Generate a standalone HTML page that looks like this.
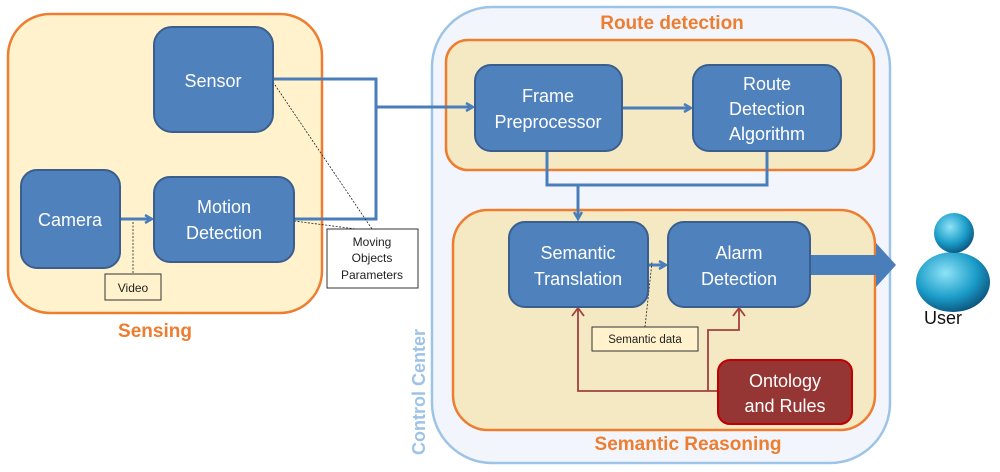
<!DOCTYPE html>
<html><head><style>body{margin:0;background:#fff}svg{display:block}</style></head><body>
<svg width="1000" height="472" xmlns="http://www.w3.org/2000/svg" font-family="Liberation Sans, sans-serif">
<defs>
<marker id="ab" markerWidth="10" markerHeight="10" refX="8" refY="5" orient="auto" markerUnits="userSpaceOnUse"><path d="M1,1 L8,5 L1,9" fill="none" stroke="#4a7ebb" stroke-width="2.5"/></marker>
<radialGradient id="ug" cx="40%" cy="35%" r="70%"><stop offset="0" stop-color="#8fe3f7"/><stop offset="0.6" stop-color="#1a9cc8"/><stop offset="1" stop-color="#0b4f78"/></radialGradient>
</defs>
<rect x="8" y="14" width="314" height="299" rx="42" fill="#fff2cc" stroke="#ed7d31" stroke-width="2.5"/>
<text x="155" y="337" font-size="19" font-weight="bold" fill="#ed7d31" text-anchor="middle">Sensing</text>
<rect x="432" y="7" width="458" height="456" rx="60" fill="#f2f6fc" stroke="#9dc3e6" stroke-width="2.5"/>
<text transform="translate(425,455) rotate(-90)" font-size="18" font-weight="bold" fill="#9dc3e6">Control Center</text>
<text x="672" y="29" font-size="19" font-weight="bold" fill="#ed7d31" text-anchor="middle">Route detection</text>
<rect x="446" y="40" width="428" height="130" rx="22" fill="#f5e9c4" stroke="#ed7d31" stroke-width="2.5"/>
<rect x="453" y="210" width="422" height="220" rx="35" fill="#f5e9c4" stroke="#ed7d31" stroke-width="2.5"/>
<text x="688" y="450" font-size="19" font-weight="bold" fill="#ed7d31" text-anchor="middle">Semantic Reasoning</text>
<g fill="none" stroke="#4a7ebb" stroke-width="3">
<path d="M273,79 H376 V219 H294"/>
<path d="M376,107 H473" marker-end="url(#ab)"/>
<path d="M120,219 H152" marker-end="url(#ab)"/>
<path d="M622,108 H691" marker-end="url(#ab)"/>
<path d="M547,151 V185 H767 V151"/>
<path d="M578,185 V219" marker-end="url(#ab)"/>
<path d="M648,265 H666" marker-end="url(#ab)"/>
</g>
<path d="M810,255 H876 V243 L896,265 L876,287 V275 H810 Z" fill="#4a7ebb"/>
<g fill="none" stroke="#a0413e" stroke-width="1.8">
<path d="M718,391 H578 V309"/><path d="M572,316 L578,308 L584,316"/>
<path d="M708,391 V330 H739 V309"/><path d="M733,316 L739,308 L745,316"/>
</g>
<g stroke="#222" stroke-width="0.8" stroke-dasharray="2,1.5" fill="none">
<path d="M273,82 L372,229"/><path d="M294,221 L356,229"/>
<path d="M133,222 V274"/><path d="M645,327 L652,262"/>
</g>
<g fill="#4f81bd" stroke="#3a5f8f" stroke-width="2">
<rect x="154" y="27" width="119" height="105" rx="18"/>
<rect x="21" y="170" width="99" height="98" rx="16"/>
<rect x="154" y="177" width="140" height="85" rx="16"/>
<rect x="475" y="65" width="147" height="86" rx="16"/>
<rect x="693" y="65" width="148" height="86" rx="16"/>
<rect x="509" y="222" width="139" height="85" rx="16"/>
<rect x="668" y="222" width="142" height="85" rx="16"/>
</g>
<rect x="718" y="360" width="134" height="64" rx="12" fill="#963634" stroke="#c00000" stroke-width="2"/>
<g fill="#fff" font-size="18" text-anchor="middle">
<text x="213" y="87">Sensor</text>
<text x="70" y="226">Camera</text>
<text x="224" y="213">Motion</text><text x="224" y="239">Detection</text>
<text x="548" y="102">Frame</text><text x="548" y="128">Preprocessor</text>
<text x="767" y="90">Route</text><text x="767" y="115">Detection</text><text x="767" y="140">Algorithm</text>
<text x="578" y="259">Semantic</text><text x="578" y="285">Translation</text>
<text x="739" y="259">Alarm</text><text x="739" y="285">Detection</text>
<text x="785" y="387">Ontology</text><text x="785" y="412">and Rules</text>
</g>
<rect x="105" y="274" width="56" height="26" fill="#fff2cc" stroke="#333" stroke-width="1"/>
<text x="133" y="292" font-size="12" text-anchor="middle" fill="#222">Video</text>
<rect x="327" y="229" width="91" height="59" fill="#fff" stroke="#333" stroke-width="1"/>
<g font-size="12" text-anchor="middle" fill="#222"><text x="372" y="246">Moving</text><text x="372" y="262">Objects</text><text x="372" y="279">Parameters</text></g>
<rect x="592" y="327" width="106" height="24" fill="#fff2cc" stroke="#333" stroke-width="1"/>
<text x="645" y="343" font-size="11.5" text-anchor="middle" fill="#222">Semantic data</text>
<ellipse cx="953" cy="282" rx="37" ry="30" fill="url(#ug)"/>
<circle cx="954" cy="233" r="20" fill="url(#ug)"/>
<text x="943" y="324" font-size="18" fill="#111" text-anchor="middle">User</text>
</svg>
</body></html>
